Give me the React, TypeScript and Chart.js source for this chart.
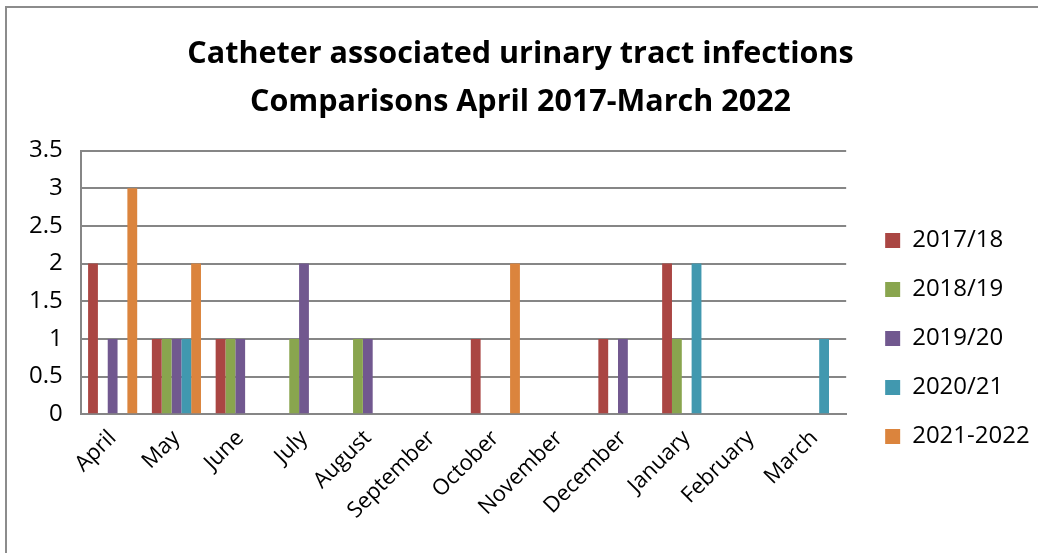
import React, { useEffect, useRef } from "react";
import { Chart, registerables } from "chart.js";

Chart.register(...registerables);

const months = ["April", "May", "June", "July", "August", "September", "October", "November", "December", "January", "February", "March"];
const seriesNames = ["2017/18", "2018/19", "2019/20", "2020/21", "2021-2022"];
const s2017 = [2, 1, 1, 0, 0, 0, 1, 0, 1, 2, 0, 0];
const s2018 = [0, 1, 1, 1, 1, 0, 0, 0, 0, 1, 0, 0];
const s2019 = [1, 1, 1, 2, 1, 0, 0, 0, 1, 0, 0, 0];
const s2020 = [0, 1, 0, 0, 0, 0, 0, 0, 0, 2, 0, 1];
const s2021 = [3, 2, 0, 0, 0, 0, 2, 0, 0, 0, 0, 0];
const colors = ["#AA4643", "#89A54E", "#71588F", "#4198AF", "#DB843D"];
const titleLines = ["Catheter associated urinary tract infections", "Comparisons April 2017-March 2022"];

const FONT = "'Open Sans', sans-serif";

export default function App() {
  const ref = useRef<HTMLCanvasElement | null>(null);
  useEffect(() => {
    const values = [s2017, s2018, s2019, s2020, s2021];
    const chart = new Chart(ref.current as HTMLCanvasElement, {
      type: "bar",
      data: {
        labels: months,
        datasets: seriesNames.map((n, i) => ({
          label: n,
          data: values[i],
          backgroundColor: colors[i],
          borderWidth: 0,
          categoryPercentage: 0.77,
          barPercentage: 1,
        })),
      },
      options: {
        animation: false,
        responsive: false,
        maintainAspectRatio: false,
        layout: { padding: { left: 3, right: 8, top: 10, bottom: 26 } },
        plugins: {
          title: {
            display: true,
            text: titleLines,
            color: "#000",
            font: { family: FONT, size: 30.5, weight: "bold", lineHeight: 1.55 },
            padding: { top: 13, bottom: 25 },
          },
          legend: {
            position: "right",
            title: { display: true, text: " ", font: { size: 10 }, padding: 60 },
            labels: {
              color: "#000",
              font: { family: FONT, size: 24 },
              boxWidth: 15,
              boxHeight: 15,
              padding: 25,
            },
          },
          tooltip: { enabled: false },
        },
        scales: {
          x: {
            grid: { display: false },
            border: { color: "#868686", width: 2 },
            ticks: {
              color: "#000",
              font: { family: FONT, size: 22 },
              maxRotation: 45,
              minRotation: 45,
              autoSkip: false,
            },
          },
          y: {
            min: 0,
            max: 3.5,
            grid: { color: "#868686", lineWidth: 2, drawTicks: false },
            border: { color: "#868686", width: 2 },
            ticks: {
              stepSize: 0.5,
              color: "#000",
              font: { family: FONT, size: 24 },
              padding: 18,
              callback: (v: any) => String(Number(v)),
            },
          },
          spacer: {
            type: "linear",
            position: "right",
            display: true,
            grid: { display: false },
            border: { display: false },
            ticks: { display: false },
            afterFit: (s: any) => {
              s.width = 14;
            },
          },
        },
      },
    });
    return () => chart.destroy();
  }, []);
  return (
    <div style={{ position: "fixed", left: 0, top: 0, width: 1038, height: 553, background: "#fff" }}>
      <div style={{ position: "absolute", left: 5, top: 6, right: 0, bottom: 0, borderLeft: "2px solid #8c8c8c", borderTop: "2px solid #8c8c8c" }} />
      <canvas ref={ref} width={1030} height={545} style={{ position: "absolute", left: 8, top: 8 }} />
    </div>
  );
}
